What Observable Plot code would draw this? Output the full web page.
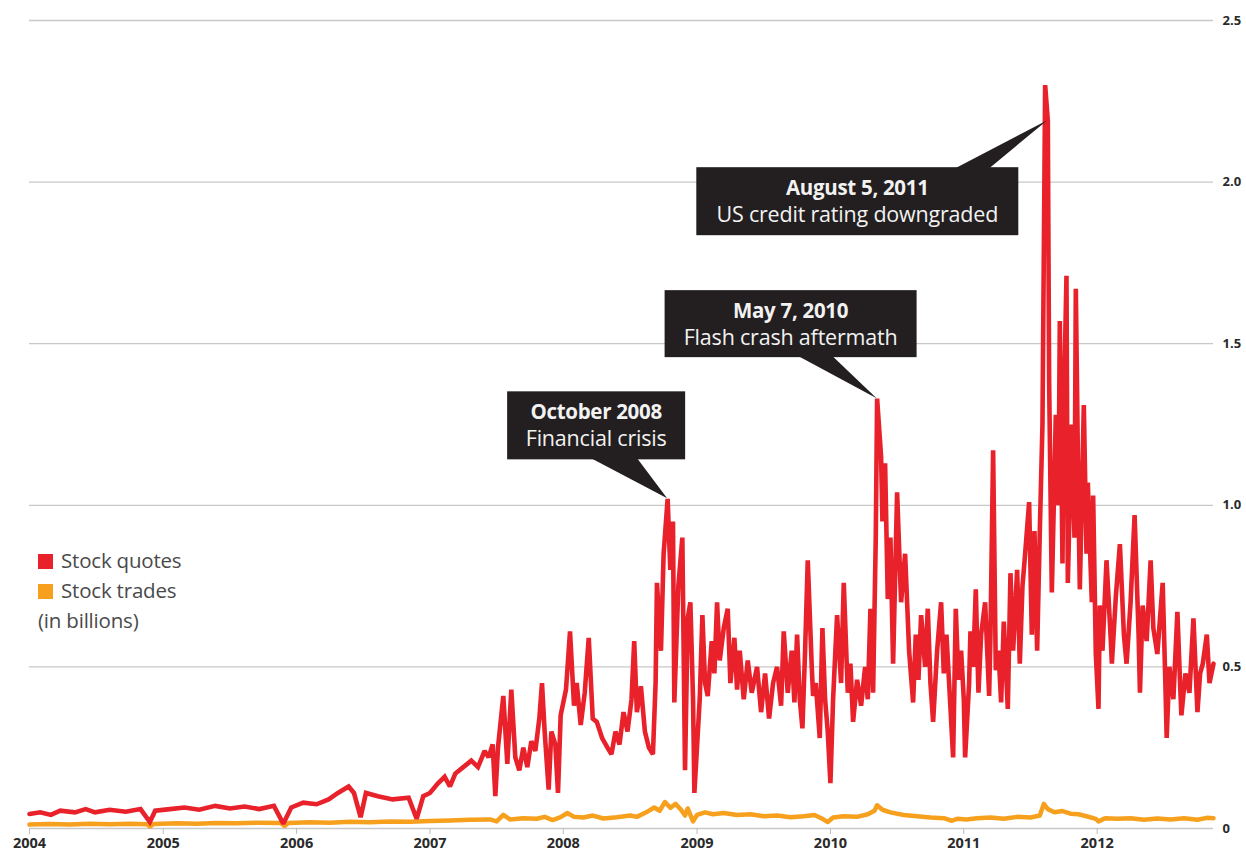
<!DOCTYPE html>
<html>
<head>
<meta charset="utf-8">
<script src="https://cdn.jsdelivr.net/npm/d3@7"></script>
<script src="https://cdn.jsdelivr.net/npm/@observablehq/plot@0.6"></script>
<style>
  html, body { margin: 0; padding: 0; background: #fff; }
  #wrap { position: relative; width: 1246px; height: 856px; overflow: hidden; }
  #legend { position: absolute; left: 38px; top: 545px; font-family: "Open Sans", sans-serif; font-size: 20.5px; color: #4a4a4a; line-height: 30px; letter-spacing: -0.2px; }
  #legend .sw { display: inline-block; width: 15px; height: 15px; margin-right: 8px; vertical-align: -1px; }
</style>
</head>
<body>
<div id="wrap"><div id="legend"></div></div>
<script>
// ---- data (decimal year, billions) ----
const seriesNames = ["Stock quotes", "Stock trades"];
const seriesColors = ["#e8212b", "#f6a01e"];
const legendNote = "(in billions)";

const quotes = [
  [2004.00,0.045],[2004.08,0.05],[2004.16,0.042],[2004.23,0.055],[2004.34,0.05],[2004.42,0.06],
  [2004.49,0.05],[2004.60,0.058],[2004.72,0.052],[2004.83,0.06],[2004.90,0.02],[2004.94,0.055],
  [2005.05,0.06],[2005.16,0.065],[2005.27,0.058],[2005.39,0.07],[2005.50,0.062],[2005.61,0.068],
  [2005.72,0.06],[2005.83,0.07],[2005.90,0.015],[2005.96,0.065],
  [2006.05,0.08],[2006.15,0.075],[2006.24,0.09],[2006.31,0.11],[2006.39,0.13],[2006.43,0.11],
  [2006.48,0.035],[2006.52,0.11],[2006.61,0.10],[2006.72,0.09],[2006.84,0.095],[2006.90,0.03],[2006.95,0.10],
  [2007.00,0.11],[2007.06,0.14],[2007.11,0.16],[2007.15,0.13],[2007.19,0.17],[2007.25,0.19],[2007.31,0.21],
  [2007.36,0.19],[2007.41,0.24],[2007.44,0.22],[2007.47,0.26],[2007.49,0.10],[2007.51,0.25],[2007.55,0.41],
  [2007.58,0.20],[2007.61,0.43],[2007.64,0.22],[2007.67,0.18],[2007.70,0.25],[2007.73,0.19],[2007.76,0.27],
  [2007.79,0.24],[2007.82,0.34],[2007.84,0.45],[2007.86,0.30],[2007.89,0.12],[2007.91,0.30],[2007.94,0.26],
  [2007.96,0.11],[2007.98,0.35],
  [2008.02,0.43],[2008.05,0.61],[2008.08,0.38],[2008.10,0.45],[2008.13,0.32],[2008.16,0.42],[2008.19,0.59],
  [2008.22,0.34],[2008.25,0.33],[2008.29,0.28],[2008.33,0.25],[2008.36,0.23],[2008.39,0.30],[2008.42,0.26],
  [2008.45,0.36],[2008.48,0.30],[2008.51,0.40],[2008.53,0.58],[2008.55,0.36],[2008.58,0.44],[2008.61,0.30],
  [2008.64,0.25],[2008.67,0.23],[2008.69,0.45],[2008.70,0.76],[2008.73,0.55],[2008.75,0.85],[2008.78,1.02],
  [2008.80,0.80],[2008.82,0.95],[2008.83,0.39],[2008.86,0.75],[2008.89,0.90],[2008.91,0.18],[2008.93,0.65],
  [2008.95,0.70],[2008.97,0.40],[2008.98,0.11],
  [2009.02,0.40],[2009.04,0.66],[2009.06,0.45],[2009.08,0.41],[2009.11,0.58],[2009.13,0.48],[2009.15,0.70],
  [2009.17,0.52],[2009.20,0.62],[2009.23,0.68],[2009.25,0.45],[2009.28,0.59],[2009.30,0.43],[2009.32,0.55],
  [2009.35,0.40],[2009.38,0.52],[2009.41,0.42],[2009.45,0.50],[2009.48,0.36],[2009.51,0.48],[2009.54,0.34],
  [2009.57,0.45],[2009.60,0.50],[2009.63,0.38],[2009.65,0.61],[2009.68,0.42],[2009.71,0.55],[2009.73,0.39],
  [2009.75,0.60],[2009.77,0.40],[2009.79,0.31],[2009.81,0.55],[2009.83,0.83],[2009.86,0.50],[2009.87,0.41],
  [2009.89,0.45],[2009.92,0.28],[2009.94,0.62],[2009.96,0.40],[2009.98,0.30],
  [2010.00,0.14],[2010.02,0.40],[2010.05,0.66],[2010.08,0.45],[2010.10,0.76],[2010.13,0.42],[2010.15,0.51],
  [2010.17,0.33],[2010.20,0.46],[2010.23,0.38],[2010.26,0.50],[2010.28,0.40],[2010.30,0.68],[2010.32,0.42],
  [2010.34,0.90],[2010.35,1.33],[2010.38,1.15],[2010.39,0.95],[2010.41,1.13],[2010.43,0.71],[2010.45,0.90],
  [2010.47,0.51],[2010.50,1.04],[2010.53,0.70],[2010.55,0.80],[2010.56,0.85],[2010.59,0.55],[2010.62,0.39],
  [2010.64,0.60],[2010.66,0.46],[2010.68,0.66],[2010.71,0.50],[2010.73,0.68],[2010.75,0.45],[2010.77,0.33],
  [2010.80,0.55],[2010.83,0.70],[2010.85,0.48],[2010.87,0.60],[2010.89,0.45],[2010.92,0.22],[2010.94,0.68],
  [2010.96,0.46],[2010.98,0.55],
  [2011.00,0.40],[2011.01,0.22],[2011.04,0.45],[2011.05,0.61],[2011.07,0.50],[2011.09,0.74],[2011.11,0.42],
  [2011.13,0.60],[2011.16,0.70],[2011.19,0.41],[2011.20,0.60],[2011.22,1.17],[2011.24,0.49],[2011.26,0.55],
  [2011.28,0.39],[2011.30,0.64],[2011.33,0.37],[2011.35,0.79],[2011.37,0.55],[2011.40,0.80],[2011.42,0.51],
  [2011.44,0.75],[2011.46,0.85],[2011.49,1.01],[2011.51,0.60],[2011.53,0.92],[2011.55,0.55],[2011.57,0.92],
  [2011.59,1.25],[2011.61,2.30],[2011.63,2.19],[2011.64,1.38],[2011.66,0.73],[2011.69,1.28],[2011.71,1.00],
  [2011.72,1.57],[2011.74,0.82],[2011.75,1.30],[2011.77,1.71],[2011.78,0.76],[2011.80,1.10],[2011.81,1.25],
  [2011.83,0.90],[2011.84,1.67],[2011.86,1.00],[2011.87,0.74],[2011.90,1.31],[2011.92,0.85],[2011.93,1.07],
  [2011.96,0.70],[2011.97,1.03],[2011.99,0.54],
  [2012.01,0.37],[2012.02,0.69],[2012.04,0.55],[2012.07,0.83],[2012.10,0.60],[2012.11,0.51],[2012.14,0.72],
  [2012.17,0.88],[2012.20,0.60],[2012.22,0.51],[2012.25,0.70],[2012.28,0.97],[2012.31,0.60],[2012.32,0.42],
  [2012.34,0.69],[2012.37,0.58],[2012.40,0.83],[2012.42,0.62],[2012.45,0.54],[2012.47,0.65],[2012.49,0.76],
  [2012.51,0.45],[2012.52,0.28],[2012.54,0.50],[2012.57,0.40],[2012.60,0.67],[2012.62,0.45],[2012.63,0.35],
  [2012.66,0.48],[2012.69,0.42],[2012.72,0.65],[2012.75,0.36],[2012.77,0.48],[2012.79,0.51],[2012.82,0.60],
  [2012.84,0.45],[2012.87,0.51]
];

const trades = [
  [2004.00,0.012],[2004.15,0.014],[2004.30,0.012],[2004.45,0.015],[2004.60,0.013],[2004.75,0.015],[2004.88,0.013],
  [2004.90,0.006],[2004.93,0.014],[2005.10,0.016],[2005.25,0.015],[2005.40,0.017],[2005.55,0.016],[2005.70,0.018],
  [2005.88,0.017],[2005.91,0.008],[2005.94,0.017],[2006.10,0.019],[2006.25,0.018],[2006.40,0.021],[2006.55,0.019],
  [2006.70,0.022],[2006.85,0.021],[2007.00,0.023],[2007.15,0.025],[2007.30,0.027],[2007.45,0.028],[2007.50,0.022],
  [2007.55,0.042],[2007.60,0.028],[2007.70,0.032],[2007.80,0.030],[2007.86,0.036],[2007.92,0.026],[2007.98,0.035],
  [2008.03,0.048],[2008.08,0.036],[2008.15,0.034],[2008.22,0.040],[2008.30,0.031],[2008.40,0.035],[2008.50,0.040],
  [2008.55,0.036],[2008.62,0.050],[2008.68,0.065],[2008.72,0.055],[2008.76,0.082],[2008.80,0.064],[2008.84,0.076],
  [2008.88,0.058],[2008.91,0.040],[2008.93,0.062],[2008.97,0.022],[2009.00,0.042],[2009.06,0.050],[2009.12,0.044],
  [2009.20,0.048],[2009.30,0.042],[2009.40,0.044],[2009.50,0.038],[2009.60,0.040],[2009.70,0.035],[2009.80,0.038],
  [2009.88,0.042],[2009.94,0.030],[2009.98,0.020],[2010.02,0.034],[2010.10,0.038],[2010.20,0.036],[2010.28,0.044],
  [2010.33,0.055],[2010.35,0.072],[2010.39,0.058],[2010.45,0.050],[2010.55,0.042],[2010.65,0.038],[2010.75,0.034],
  [2010.85,0.032],[2010.91,0.024],[2010.95,0.030],[2011.02,0.028],[2011.10,0.032],[2011.20,0.034],[2011.30,0.030],
  [2011.40,0.036],[2011.50,0.034],[2011.57,0.040],[2011.60,0.076],[2011.63,0.060],[2011.68,0.050],[2011.74,0.054],
  [2011.80,0.046],[2011.86,0.044],[2011.92,0.038],[2011.99,0.030],[2012.01,0.022],[2012.06,0.032],[2012.15,0.030],
  [2012.25,0.032],[2012.35,0.027],[2012.45,0.031],[2012.55,0.028],[2012.65,0.032],[2012.75,0.027],[2012.82,0.033],
  [2012.87,0.032]
];

const yTicks = [0, 0.5, 1.0, 1.5, 2.0, 2.5];
const events = [
  {t: 2008.78, v: 1.02, title: "October 2008", text: "Financial crisis"},
  {t: 2010.35, v: 1.33, title: "May 7, 2010", text: "Flash crash aftermath"},
  {t: 2011.63, v: 2.19, title: "August 5, 2011", text: "US credit rating downgraded"}
];
const xStart = 2004.0, xEnd = 2012.87, yMax = 2.5;

// ---- helpers ----
function toDate(y) {
  const Y = Math.floor(y), s = Date.UTC(Y, 0, 1), e = Date.UTC(Y + 1, 0, 1);
  return new Date(s + (y - Y) * (e - s));
}
const quoteRows = quotes.map(([t, v]) => ({date: toDate(t), value: v}));
const tradeRows = trades.map(([t, v]) => ({date: toDate(t), value: v}));

const chart = Plot.plot({
  width: 1246,
  height: 856,
  marginLeft: 29,
  marginRight: 33,
  marginTop: 20,
  marginBottom: 28,
  style: {fontFamily: "'Open Sans', sans-serif", fontSize: "13px", color: "#222", background: "#fff"},
  x: {type: "utc", domain: [toDate(xStart), toDate(xEnd)]},
  y: {domain: [0, yMax]},
  marks: [
    Plot.gridY(yTicks.filter(d => d > 0), {stroke: "#c8c8c8", strokeOpacity: 1, strokeWidth: 1.3}),
    Plot.ruleY([0], {stroke: "#c8c8c8", strokeWidth: 1.5}),
    Plot.axisX({ticks: d3.utcYear.every(1), tickFormat: d3.utcFormat("%Y"), tickSize: 6, tickPadding: 3,
      stroke: "#bbb", fontWeight: 700, fontSize: 14.5, fill: "#2a2a2a"}),
    Plot.axisY({anchor: "right", ticks: yTicks, tickSize: 0, tickPadding: 9, label: null,
      tickFormat: d => d === 0 ? "0" : d.toFixed(1), fontWeight: 700, fontSize: 13, fill: "#2a2a2a"}),
    Plot.line(tradeRows, {x: "date", y: "value", stroke: seriesColors[1], strokeWidth: 4.5, strokeLinejoin: "round"}),
    Plot.line(quoteRows, {x: "date", y: "value", stroke: seriesColors[0], strokeWidth: 4.6, strokeLinejoin: "miter", strokeMiterlimit: 2})
  ]
});

document.getElementById("wrap").prepend(chart);

// ---- callouts, positioned through the plot's scales ----
const sx = chart.scale("x"), sy = chart.scale("y");
// box layout relative to the anchor point: [dxCenter, dyTop, width, height, pointerBase0, pointerBase1, pointerSide]
const layouts = [
  [-71, -107, 178, 68, -76, -30, "bottom"],
  [-86, -108, 252, 67, -78, -44, "bottom"],
  [-190, 47, 322, 68, -92, -58, "top"]
];
const svg = d3.select(chart);
const g = svg.append("g").attr("class", "callouts");
events.forEach((ev, i) => {
  const px = sx.apply(toDate(ev.t)), py = sy.apply(ev.v);
  const [dxc, dyt, w, h, b0, b1, side] = layouts[i];
  const left = px + dxc - w / 2, top = py + dyt;
  const baseY = side === "bottom" ? top + h - 1 : top + 1;
  g.append("rect").attr("x", left).attr("y", top).attr("width", w).attr("height", h).attr("fill", "#231f20");
  g.append("path").attr("d", `M${px + b0},${baseY}L${px + b1},${baseY}L${px},${py}Z`).attr("fill", "#231f20");
  const cx = left + w / 2;
  g.append("text").attr("x", cx).attr("y", top + 28).attr("text-anchor", "middle")
    .attr("fill", "#f2f2f2").attr("font-size", 20.5).attr("font-weight", 700).attr("letter-spacing", -0.3).text(ev.title);
  g.append("text").attr("x", cx).attr("y", top + 55).attr("text-anchor", "middle")
    .attr("fill", "#f2f2f2").attr("font-size", 21.5).attr("font-weight", 400).attr("letter-spacing", -0.2).text(ev.text);
});

// ---- legend ----
const legend = d3.select("#legend");
seriesNames.forEach((n, i) => {
  const row = legend.append("div");
  row.append("span").attr("class", "sw").style("background", seriesColors[i]);
  row.append("span").text(n);
});
legend.append("div").text(legendNote);
</script>
</body>
</html>
